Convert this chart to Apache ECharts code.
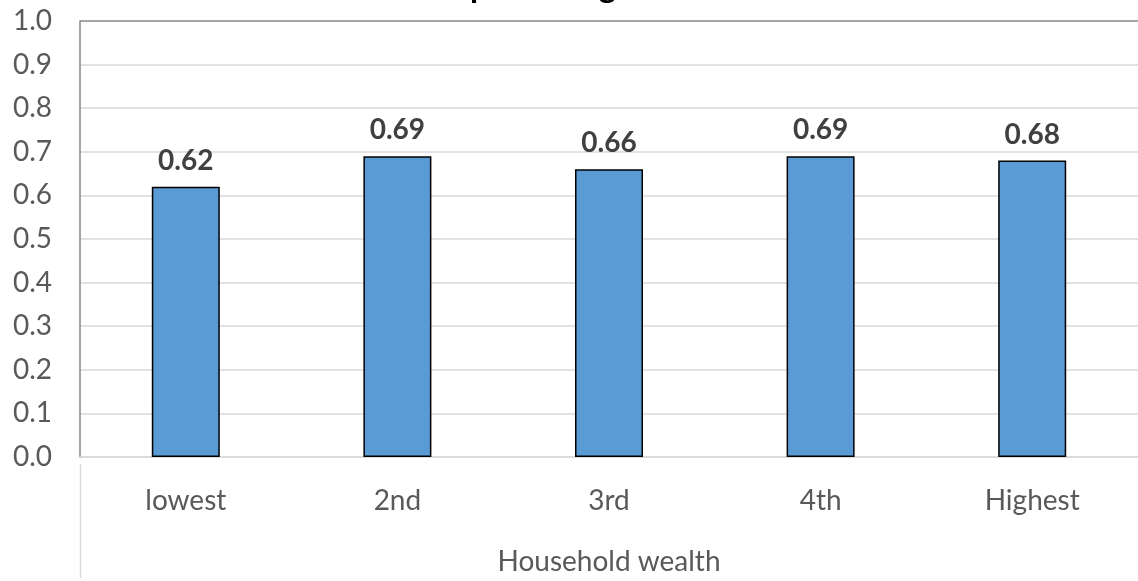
<!DOCTYPE html>
<html>
<head>
<meta charset="utf-8">
<script src="https://cdn.jsdelivr.net/npm/echarts@6/dist/echarts.min.js"></script>
<style>
  html, body { margin: 0; padding: 0; background: #fff; }
  #chart { width: 1138px; height: 581px; }
</style>
</head>
<body>
<div id="chart"></div>
<script>
// data
var categories = ['lowest', '2nd', '3rd', '4th', 'Highest'];
var values = [0.62, 0.69, 0.66, 0.69, 0.68];
var titleText = 'Mean percentage of children';
var xName = 'Household wealth';

var chart = echarts.init(document.getElementById('chart'));

// split line colours: light grey, the top one darker (plot border)
var splitColors = [];
for (var i = 0; i < 10; i++) splitColors.push('#d9d9d9');
splitColors.push('#898989');

var option = {
  animation: false,
  textStyle: { fontFamily: 'Lato' },
  title: {
    text: titleText,
    left: 588,
    top: -29,
    padding: 0,
    textAlign: 'center',
    textStyle: { fontSize: 33, fontWeight: 'bold', color: '#000', fontFamily: 'Lato' }
  },
  grid: { left: 80, right: -9, top: 21, bottom: 117 },
  xAxis: {
    type: 'category',
    data: categories,
    name: xName,
    nameLocation: 'middle',
    nameGap: 91,
    nameTextStyle: { fontSize: 28, color: '#595959', fontFamily: 'Lato' },
    axisLine: { lineStyle: { color: '#d9d9d9', width: 1.5 } },
    axisTick: { show: false },
    axisLabel: { fontSize: 28, color: '#595959', margin: 30, fontFamily: 'Lato' }
  },
  yAxis: {
    type: 'value',
    min: 0,
    max: 1,
    interval: 0.1,
    axisLine: { show: true, lineStyle: { color: '#898989', width: 1.5 } },
    axisTick: { show: false },
    axisLabel: {
      fontSize: 28, color: '#595959', margin: 28, fontFamily: 'Lato',
      formatter: function (v) { return v.toFixed(1); }
    },
    splitLine: { lineStyle: { color: splitColors, width: 1.5 } }
  },
  series: [{
    type: 'bar',
    data: values,
    barWidth: 68,
    itemStyle: { color: '#5b9bd5', borderColor: '#000', borderWidth: 1.5 },
    label: {
      show: true,
      position: 'top',
      distance: 12,
      fontSize: 28,
      fontWeight: 'bold',
      color: '#404040',
      fontFamily: 'Lato',
      formatter: function (p) { return p.value.toFixed(2); }
    }
  }],
  graphic: [{
    // left frame line continuing below the axis
    type: 'line',
    shape: { x1: 80.5, y1: 464, x2: 80.5, y2: 578 },
    style: { stroke: '#d9d9d9', lineWidth: 1.5 }
  }]
};
chart.setOption(option);
</script>
</body>
</html>
